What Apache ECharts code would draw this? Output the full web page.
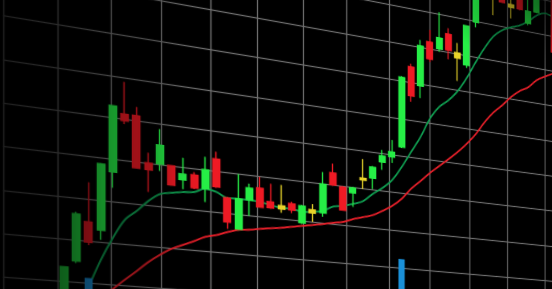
<!DOCTYPE html>
<html>
<head>
<meta charset="utf-8">
<script src="https://cdn.jsdelivr.net/npm/echarts@6/dist/echarts.min.js"></script>
<style>
  html, body { margin: 0; padding: 0; width: 552px; height: 289px; overflow: hidden; background: #000; }
  #stage { position: absolute; left: 0; top: 0; width: 552px; height: 289px; overflow: hidden; background: #000; }
  #c {
    position: absolute; left: 0; top: -100px; width: 620px; height: 440px;
    transform-origin: 276px 575px;
    transform: perspective(918.7px) rotateY(20deg);
  }
  #shade {
    position: absolute; left: 0; top: 0; width: 552px; height: 289px; pointer-events: none;
    background:
      radial-gradient(ellipse 110px 70px at 552px 0px, rgba(0,0,0,0.6), rgba(0,0,0,0) 100%),
      linear-gradient(to right, rgba(0,0,0,0.72) 0px, rgba(0,0,0,0.6) 64px, rgba(0,0,0,0.36) 113px, rgba(0,0,0,0.3) 150px, rgba(0,0,0,0.08) 180px, rgba(0,0,0,0) 205px);
  }
</style>
</head>
<body>
<div id="stage">
  <div id="c"></div>
  <div id="shade"></div>
</div>
<script>
// ---- data ----
const categories = ['1','2','3','4','5','6','7','8','9','10','11','12','13','14','15','16','17','18','19','20',
  '21','22','23','24','25','26','27','28','29','30','31','32','33','34','35','36','37','38','39','40',
  '41','42','43','44','45','46','47','48','49'];

const openPrices = [6.6, 15.0, 24.5, 22.8, 37.0, 51.2, 51.2, 40.1, 40.2, 40.1,
  37.0, 38.5, 35.4, 43.1, 33.7, 26.2, 33.8, 37.1, 33.9, 33.2,
  34.0, 29.4, 33.0, 32.5, 43.2, 39.8, 38.6, 42.8, 43.1, 47.7,
  49.4, 52.4, 74.3, 69.6, 81.9, 80.5, 85.0, 80.3, 77.4, 89.7,
  98.5, 98.0, 100.0, 96.6, 99.0, 92.3, 95.9, 101.0, 101.0];

const closePrices = [13.4, 26.1, 19.7, 38.6, 52.8, 49.6, 38.6, 38.5, 44.8, 35.4,
  38.4, 35.3, 40.1, 36.2, 27.7, 33.8, 36.8, 32.3, 32.4, 32.4,
  32.4, 33.7, 32.2, 40.0, 40.1, 33.8, 39.9, 42.3, 46.0, 49.3,
  50.7, 71.1, 66.5, 80.4, 77.3, 83.5, 80.6, 78.9, 88.2, 99.0,
  100.5, 97.6, 96.7, 95.8, 95.8, 95.7, 100.5, 102.0, 85.4];

const lowPrices = [5.6, 14.5, 19.0, 20.5, 33.2, 48.8, 38.4, 33.1, 38.5, 35.2,
  34.7, 35.0, 32.1, 35.9, 26.0, 26.0, 29.8, 32.1, 32.1, 31.4,
  31.6, 29.1, 29.9, 31.5, 39.8, 33.6, 34.9, 39.9, 40.2, 45.6,
  47.8, 52.1, 64.9, 66.3, 76.5, 79.7, 78.1, 72.6, 76.6, 88.3,
  97.5, 92.6, 96.5, 92.7, 95.5, 91.7, 95.6, 100.5, 85.0];

const highPrices = [13.6, 26.6, 33.9, 38.8, 53.0, 58.9, 53.3, 42.6, 48.7, 40.3,
  42.4, 39.2, 43.3, 44.9, 34.0, 40.0, 37.9, 39.9, 38.5, 38.5,
  34.5, 34.0, 34.5, 43.1, 45.6, 40.1, 40.2, 47.8, 46.3, 50.9,
  53.9, 71.4, 75.1, 82.0, 85.2, 90.5, 86.6, 83.0, 88.3, 100.5,
  102.0, 100.0, 101.0, 99.0, 100.0, 99.5, 101.5, 103.5, 102.0];

// day indexes flagged as doji (drawn yellow)
const dojiDays = [19, 22, 27, 37, 41, 43];

const maFast = [null, null, 9.1, 15.7, 21.2, 25.8, 28.2, 30.9, 32.9, 33.5,
  34.0, 34.3, 35.4, 34.9, 33.7, 33.8, 33.8, 33.6, 33.1, 32.7,
  32.7, 32.2, 32.5, 33.0, 34.4, 34.9, 35.7, 36.7, 38.9, 40.8,
  43.2, 47.0, 51.4, 55.8, 61.1, 64.7, 66.9, 69.8, 73.8, 78.6,
  83.0, 86.7, 88.9, 90.2, 91.2, 92.8, 95.0, 96.1, 95.4];

const maSlow = [null, null, null, 6.7, 9.0, 11.4, 13.7, 16.1, 18.1, 19.8,
  21.0, 22.2, 23.5, 24.2, 25.2, 26.0, 26.3, 26.8, 27.2, 27.6,
  28.1, 28.6, 29.1, 29.6, 30.2, 30.7, 31.7, 32.5, 33.3, 34.7,
  36.3, 38.5, 41.5, 43.9, 46.4, 48.6, 50.8, 53.1, 55.7, 58.7,
  62.4, 65.5, 67.9, 70.6, 72.7, 74.2, 76.6, 78.1, 79.4];

const volume = [null, null, 224, null, null, null, null, null, null, null,
  null, null, null, null, null, null, null, null, null, null,
  null, null, null, null, null, null, null, null, null, null,
  null, 447, null, null, null, null, null, null, null, null,
  null, null, null, null, null, null, null, null, null];

// ---- styles ----
const UP = '#26ee46', DOWN = '#ee1a24', DOJI = '#e8d42a';
const GRID_LINE = { color: '#717171', width: 1.3 };

const candleData = categories.map((_, i) => {
  const item = { value: [openPrices[i], closePrices[i], lowPrices[i], highPrices[i]] };
  if (dojiDays.includes(i)) {
    item.itemStyle = { color: DOJI, color0: DOJI, borderColor: DOJI, borderColor0: DOJI };
  }
  return item;
});

const hidden = { axisLine: { show: false }, axisTick: { show: false }, axisLabel: { show: false } };

const chart = echarts.init(document.getElementById('c'), null, { renderer: 'canvas', devicePixelRatio: 2 });
chart.setOption({
  backgroundColor: '#000',
  animation: false,
  grid: [
    { left: 13.8, right: 6.5, top: 3.63, bottom: 4.4 },
    { left: 62.3, right: 6.5, top: 3.63, bottom: 4.4 }
  ],
  xAxis: [
    Object.assign({ type: 'value', gridIndex: 0, min: 0, max: 12.355, interval: 1,
      splitLine: { show: true, lineStyle: GRID_LINE } }, hidden),
    Object.assign({ type: 'category', gridIndex: 1, data: categories, boundaryGap: true,
      splitLine: { show: false } }, hidden)
  ],
  yAxis: [
    Object.assign({ type: 'value', gridIndex: 0, min: 0, max: 110, interval: 10,
      splitLine: { show: true, lineStyle: GRID_LINE } }, hidden),
    { type: 'value', gridIndex: 1, min: 0, max: 110, show: false, splitLine: { show: false } },
    { type: 'value', gridIndex: 1, min: 0, max: 2200, show: false, splitLine: { show: false } }
  ],
  series: [
    {
      type: 'line', xAxisIndex: 1, yAxisIndex: 1, data: maSlow, smooth: 0.35,
      showSymbol: false, lineStyle: { color: '#e8202a', width: 1.8 }, z: 2
    },
    {
      type: 'line', xAxisIndex: 1, yAxisIndex: 1, data: maFast, smooth: 0.35,
      showSymbol: false, lineStyle: { color: '#10a052', width: 1.8 }, z: 2
    },
    {
      type: 'candlestick', xAxisIndex: 1, yAxisIndex: 1, data: candleData, barWidth: 7.4,
      itemStyle: { color: UP, color0: DOWN, borderColor: UP, borderColor0: DOWN, borderWidth: 1.4 }, z: 3
    },
    {
      type: 'bar', xAxisIndex: 1, yAxisIndex: 2, data: volume, barWidth: 7.4,
      itemStyle: { color: '#1a90d8' }, z: 4
    }
  ]
});
</script>
</body>
</html>
